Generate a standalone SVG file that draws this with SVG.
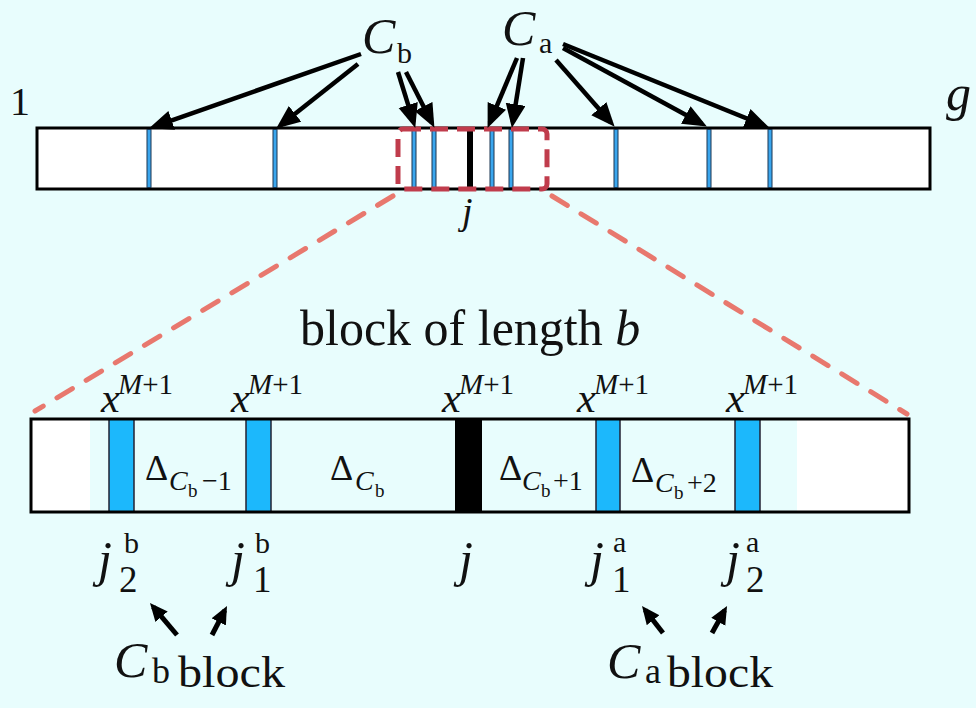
<svg xmlns="http://www.w3.org/2000/svg" width="976" height="708" viewBox="0 0 976 708" font-family="'Liberation Serif','DejaVu Serif','Noto Serif',serif">
<style>
text{font-family:"Liberation Serif","DejaVu Serif","Noto Serif",serif;fill:#111}
.it{font-style:italic}
.arr{stroke:#000;stroke-width:4.5;fill:none;marker-end:url(#ah)}
.arr2{stroke:#000;stroke-width:5;fill:none;marker-end:url(#ah2)}
.tb{fill:#3aa6ee;stroke:#1b3550;stroke-width:1}
.bb{fill:#1cb8fc;stroke:#223;stroke-width:1.5}
.zoom{stroke:#e8786e;stroke-width:5;stroke-dasharray:18 16;stroke-linecap:round;fill:none}
</style>
<defs>
<marker id="ah" markerUnits="userSpaceOnUse" markerWidth="28" markerHeight="24" refX="18" refY="10" orient="auto"><path d="M0,0 L24,10 L0,20 z" fill="#000"/></marker>
<marker id="ah2" markerUnits="userSpaceOnUse" markerWidth="24" markerHeight="20" refX="13" refY="8" orient="auto"><path d="M0,0 L18,8 L0,16 z" fill="#000"/></marker>
</defs>
<rect width="976" height="708" fill="#e8fdfd"/>

<g id="top-bar">
<rect x="37" y="128" width="893" height="61" fill="#fff" stroke="#000" stroke-width="3"/>
<rect class="tb" x="147" y="129.5" width="4" height="58"/>
<rect class="tb" x="273" y="129.5" width="4" height="58"/>
<rect class="tb" x="412" y="129.5" width="4" height="58"/>
<rect class="tb" x="432" y="129.5" width="4" height="58"/>
<rect x="467" y="129.5" width="6" height="58" fill="#000"/>
<rect class="tb" x="490" y="129.5" width="4" height="58"/>
<rect class="tb" x="509" y="129.5" width="4" height="58"/>
<rect class="tb" x="614" y="129.5" width="4" height="58"/>
<rect class="tb" x="707" y="129.5" width="4" height="58"/>
<rect class="tb" x="768" y="129.5" width="4" height="58"/>
<rect x="398" y="129" width="149" height="60" rx="5" fill="none" stroke="#c03c4c" stroke-width="5" stroke-dasharray="18 9"/>
</g>

<g id="top-labels">
<text x="10" y="115" font-size="40">1</text>
<text x="946" y="110" font-size="50" class="it">g</text>
<text x="462" y="224" font-size="38" class="it">j</text>
<text font-size="50"><tspan x="362" y="53" class="it">C</tspan><tspan x="397" y="63" font-size="30">b</tspan></text>
<text font-size="50"><tspan x="502" y="45" class="it">C</tspan><tspan x="539" y="53" font-size="30">a</tspan></text>
</g>

<g id="connectors">
<line class="arr" x1="361" y1="54" x2="154.7" y2="126.3"/>
<line class="arr" x1="358" y1="64" x2="280.9" y2="124.9"/>
<line class="arr" x1="398" y1="72" x2="413.5" y2="122.2"/>
<line class="arr" x1="406" y1="72" x2="431.7" y2="122.5"/>
<line class="arr" x1="517" y1="58" x2="489.9" y2="122.4"/>
<line class="arr" x1="523" y1="58" x2="512.8" y2="122.1"/>
<line class="arr" x1="556" y1="60" x2="610.7" y2="122.2"/>
<line class="arr" x1="563" y1="48" x2="701.6" y2="123.6"/>
<line class="arr" x1="563" y1="44" x2="763.4" y2="125.1"/>
<line class="zoom" x1="393" y1="196" x2="35" y2="411"/>
<line class="zoom" x1="552" y1="196" x2="907" y2="414"/>
<line class="arr2" x1="177" y1="635" x2="153.2" y2="606.8"/>
<line class="arr2" x1="212" y1="635" x2="224.7" y2="610.4"/>
<line class="arr2" x1="663" y1="633" x2="645.1" y2="610"/>
<line class="arr2" x1="712" y1="633" x2="724.6" y2="610.4"/>
</g>

<g id="bottom-bar">
<rect x="31" y="419" width="878" height="93" fill="#fff"/>
<rect x="90" y="420" width="707" height="91" fill="#e8fdfd"/>
<rect class="bb" x="109" y="419" width="25" height="93"/>
<rect class="bb" x="246" y="419" width="25" height="93"/>
<rect x="455" y="419" width="27" height="93" fill="#000"/>
<rect class="bb" x="596" y="419" width="24" height="93"/>
<rect class="bb" x="735" y="419" width="25" height="93"/>
<rect x="31" y="419" width="878" height="93" fill="none" stroke="#000" stroke-width="3"/>
</g>

<g id="block-title">
<text x="300" y="345" font-size="50">block of length <tspan class="it">b</tspan></text>
</g>

<g id="x-labels" font-size="42">
<text><tspan x="101" y="412" class="it">x</tspan><tspan x="118" y="394" font-size="29" class="it">M</tspan><tspan font-size="29">+1</tspan></text>
<text><tspan x="231" y="412" class="it">x</tspan><tspan x="248" y="394" font-size="29" class="it">M</tspan><tspan font-size="29">+1</tspan></text>
<text><tspan x="442" y="412" class="it">x</tspan><tspan x="459" y="394" font-size="29" class="it">M</tspan><tspan font-size="29">+1</tspan></text>
<text><tspan x="577" y="412" class="it">x</tspan><tspan x="594" y="394" font-size="29" class="it">M</tspan><tspan font-size="29">+1</tspan></text>
<text><tspan x="726" y="412" class="it">x</tspan><tspan x="743" y="394" font-size="29" class="it">M</tspan><tspan font-size="29">+1</tspan></text>
</g>

<g id="delta-labels" font-size="36">
<text><tspan x="145" y="480">Δ</tspan><tspan x="169" y="490" font-size="28" class="it">C</tspan><tspan x="188" y="497" font-size="19">b</tspan><tspan x="202" y="490" font-size="28">−1</tspan></text>
<text><tspan x="330" y="480">Δ</tspan><tspan x="355" y="490" font-size="28" class="it">C</tspan><tspan x="375" y="497" font-size="19">b</tspan></text>
<text><tspan x="499" y="480">Δ</tspan><tspan x="522" y="490" font-size="28" class="it">C</tspan><tspan x="541" y="497" font-size="19">b</tspan><tspan x="553" y="490" font-size="28">+1</tspan></text>
<text><tspan x="631" y="482">Δ</tspan><tspan x="655" y="492" font-size="28" class="it">C</tspan><tspan x="674" y="499" font-size="19">b</tspan><tspan x="687" y="492" font-size="28">+2</tspan></text>
</g>

<g id="j-labels" font-size="50">
<text><tspan x="98" y="576" class="it">j</tspan><tspan x="119" y="592" font-size="37">2</tspan><tspan x="124" y="553" font-size="30">b</tspan></text>
<text><tspan x="231" y="576" class="it">j</tspan><tspan x="253" y="592" font-size="37">1</tspan><tspan x="255" y="553" font-size="30">b</tspan></text>
<text><tspan x="459" y="576" class="it">j</tspan></text>
<text><tspan x="590" y="576" class="it">j</tspan><tspan x="612" y="592" font-size="37">1</tspan><tspan x="613" y="552" font-size="30">a</tspan></text>
<text><tspan x="726" y="576" class="it">j</tspan><tspan x="746" y="592" font-size="37">2</tspan><tspan x="746" y="552" font-size="30">a</tspan></text>
</g>

<g id="cb-block">
<text font-size="50"><tspan x="114" y="677" class="it">C</tspan><tspan x="152" y="683" font-size="36">b</tspan><tspan x="178" y="687" font-size="44" textLength="107" lengthAdjust="spacingAndGlyphs">block</tspan></text>
</g>
<g id="ca-block">
<text font-size="50"><tspan x="607" y="678" class="it">C</tspan><tspan x="645" y="683" font-size="36">a</tspan><tspan x="667" y="687" font-size="44" textLength="106" lengthAdjust="spacingAndGlyphs">block</tspan></text>
</g>
</svg>
